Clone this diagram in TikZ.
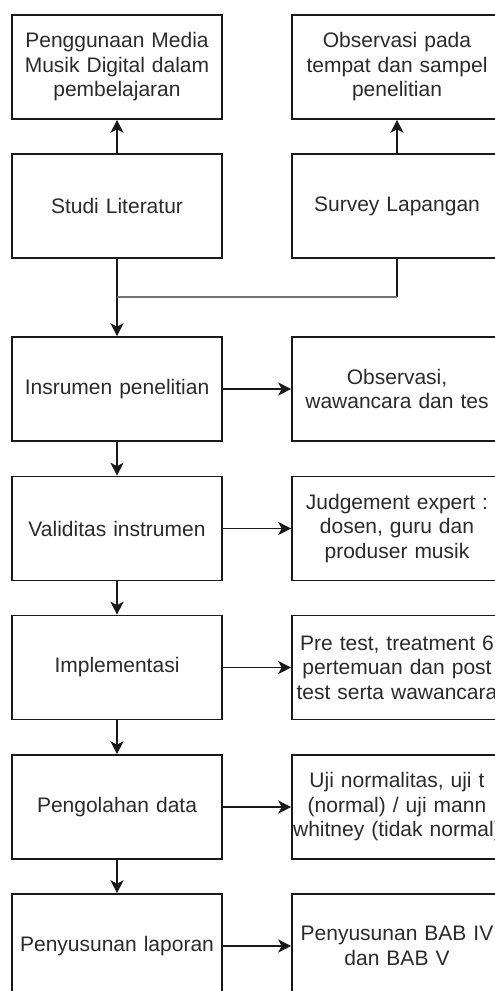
\documentclass[tikz,border=0pt]{standalone}
\usepackage{fontspec}
\setmainfont{Liberation Sans}
\usetikzlibrary{arrows.meta,positioning}
\definecolor{txt}{HTML}{2A2A2A}
\definecolor{ln}{HTML}{1A1A1A}
\newcommand{\wl}[1]{\makebox[206pt][c]{#1}}
\begin{document}
\begin{tikzpicture}[x=1pt,y=-1pt,
  box/.style={draw=ln,line width=1.6pt,minimum width=210pt,minimum height=104pt,
    text width=206pt,align=center,inner sep=0pt,text=txt,
    font=\fontsize{21}{24.5}\selectfont},
  arr/.style={draw=ln,line width=1.6pt,-{Stealth[length=13pt,width=13pt,inset=3.5pt]}},
  ln/.style={draw=ln,line width=1.6pt}]
\useasboundingbox (0,0) rectangle (495,991);
\begin{scope}
\clip (0,0) rectangle (495,991);
\node[box] (peng) at (117,67) {Penggunaan Media\\Musik Digital dalam\\pembelajaran};
\node[box] (obs) at (397,67) {Observasi pada\\tempat dan sampel\\penelitian};
\node[box] (stu) at (117,206) {Studi Literatur};
\node[box] (sur) at (397,206) {Survey Lapangan};
\node[box] (ins) at (117,389) {Insrumen penelitian};
\node[box] (obw) at (397,389) {Observasi,\\wawancara dan tes};
\node[box] (val) at (117,528.5) {Validitas instrumen};
\node[box] (jud) at (397,528.5) {Judgement expert :\\dosen, guru dan\\produser musik};
\node[box] (imp) at (117,667.5) {Implementasi};
\node[box] (pre) at (397,667.5) {Pre test, treatment 6\\pertemuan dan post\\\wl{test serta wawancara}};
\node[box] (pen) at (117,807) {Pengolahan data};
\node[box] (uji) at (397,807) {Uji normalitas, uji t\\(normal) / uji mann\\\wl{whitney (tidak normal)}};
\node[box] (lap) at (117,946) {Penyusunan laporan};
\node[box] (bab) at (397,946) {Penyusunan BAB IV\\dan BAB V};
\coordinate (j) at (117,297);
\coordinate (c1) at (397,297);
\draw[arr] (stu) -- (peng);
\draw[arr] (sur) -- (obs);
\draw[arr] (stu) -- (ins);
\draw[ln] (sur.south) -- (c1);
\draw[draw=black!55,line width=1.8pt] (c1) -- (j);
\draw[arr] (ins) -- (val);
\draw[arr] (val) -- (imp);
\draw[arr] (imp) -- (pen);
\draw[arr] (pen) -- (lap);
\draw[arr] (ins) -- (obw);
\draw[arr] (val) -- (jud);
\draw[arr] (imp) -- (pre);
\draw[arr] (pen) -- (uji);
\draw[arr] (lap) -- (bab);
\end{scope}
\end{tikzpicture}
\end{document}
